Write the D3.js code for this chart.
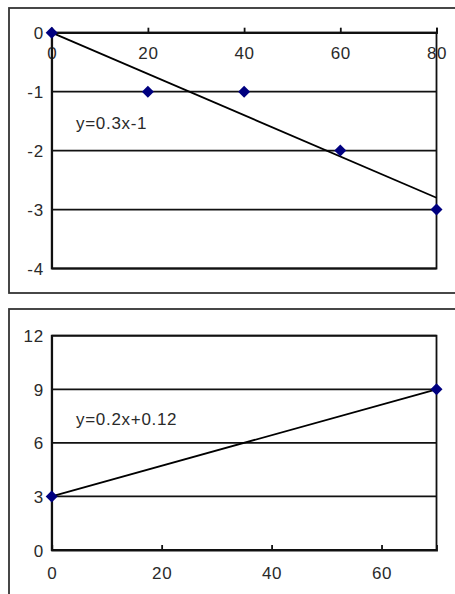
<!DOCTYPE html>
<html><head><meta charset="utf-8">
<script src="https://cdn.jsdelivr.net/npm/d3@7"></script>
<style>body{margin:0;background:#fff}svg{display:block}text{font-family:"Liberation Sans",Arial,sans-serif;fill:#2a2a2a}</style>
</head><body><svg id="c" width="455" height="594"></svg>
<script>
// Chart 1 data
const x1 = [0, 20, 40, 60, 80];
const y1 = [0, -1, -1, -2, -3];
const trend1 = [[0, 0], [80, -2.8]];
const xTicks1 = [0, 20, 40, 60, 80];
const yTicks1 = [0, -1, -2, -3, -4];
const label1 = "y=0.3x-1";
// Chart 2 data
const x2 = [0, 70];
const y2 = [3, 9];
const trend2 = [[0, 3], [70, 9]];
const xTicks2 = [0, 20, 40, 60];
const yTicks2 = [0, 3, 6, 9, 12];
const label2 = "y=0.2x+0.12";

const svg = d3.select("#c");
const diamond = "M0,-6L6,0L0,6L-6,0Z";
const FS = "17px";
const SW = 1.8;
const fmt = d => String(d);

function chart(o) {
  const g = svg.append("g");
  g.append("rect").attr("x", o.frame[0]).attr("y", o.frame[1]).attr("width", o.frame[2]).attr("height", o.frame[3])
    .attr("fill", "none").attr("stroke", "#333").attr("stroke-width", SW);
  const x = d3.scaleLinear().domain(o.xd).range([51.7, 436.5]);
  const y = d3.scaleLinear().domain(o.yd).range(o.yr);
  g.selectAll(".grid").data(o.yt).enter().append("line")
    .attr("x1", x(o.xd[0])).attr("x2", x(o.xd[1])).attr("y1", d => y(d)).attr("y2", d => y(d))
    .attr("stroke", "#111").attr("stroke-width", SW);
  g.append("rect").attr("x", x(o.xd[0])).attr("y", y(o.yd[1])).attr("width", x(o.xd[1]) - x(o.xd[0]))
    .attr("height", y(o.yd[0]) - y(o.yd[1])).attr("fill", "none").attr("stroke", "#111").attr("stroke-width", SW);
  const xa = d3.axisTop(x).tickValues(o.xt).tickSize(5).tickFormat(fmt);
  const ax = g.append("g").attr("transform", `translate(0,${y(o.xAxisAt)})`).call(xa);
  ax.select(".domain").attr("stroke", "#111").attr("stroke-width", SW);
  ax.selectAll(".tick line").attr("stroke", "#111").attr("stroke-width", SW);
  ax.selectAll(".tick text").attr("y", o.xLabDy).attr("dy", 0).style("font-size", FS)
    .attr("fill", "#2a2a2a").attr("text-anchor", "middle").attr("letter-spacing", "0.6px");
  const ya = d3.axisLeft(y).tickValues(o.yt).tickSize(0).tickPadding(8).tickFormat(fmt);
  const ay = g.append("g").attr("transform", `translate(${x(0)},0)`).call(ya);
  ay.select(".domain").attr("stroke", "#111").attr("stroke-width", SW);
  ay.selectAll(".tick text").style("font-size", FS).attr("fill", "#2a2a2a").attr("dy", "0.36em").attr("letter-spacing", "0.6px");
  g.append("path").datum(o.trend).attr("d", d3.line().x(d => x(d[0])).y(d => y(d[1])))
    .attr("stroke", "#000").attr("stroke-width", SW).attr("fill", "none");
  g.selectAll(".pt").data(o.xs.map((v, i) => [v, o.ys[i]])).enter().append("path")
    .attr("d", diamond).attr("transform", d => `translate(${x(d[0])},${y(d[1])})`).attr("fill", "#000080");
  g.append("text").attr("x", 76).attr("y", o.labY).text(o.label).style("font-size", "17px").attr("letter-spacing", "0.7px");
}

chart({frame: [9, 8, 460, 285], xd: [0, 80], yd: [-4, 0], yr: [268.5, 32.7], xt: xTicks1, yt: yTicks1,
  xAxisAt: 0, xLabDy: 26, xs: x1, ys: y1, trend: trend1, label: label1, labY: 129});
chart({frame: [9, 309, 460, 300], xd: [0, 70], yd: [0, 12], yr: [550, 335.7], xt: xTicks2, yt: yTicks2,
  xAxisAt: 0, xLabDy: 29, xs: x2, ys: y2, trend: trend2, label: label2, labY: 425});
</script></body></html>
